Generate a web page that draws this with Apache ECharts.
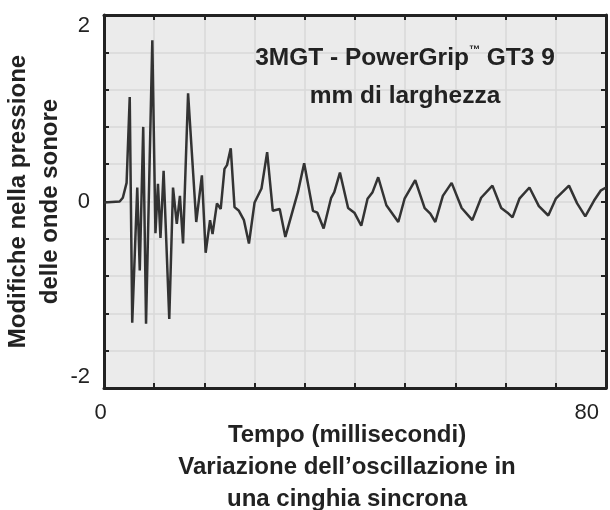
<!DOCTYPE html>
<html>
<head>
<meta charset="utf-8">
<script src="https://cdn.jsdelivr.net/npm/echarts@6/dist/echarts.min.js"></script>
<style>
    html, body {margin: 0; padding: 0; background: #ffffff;}
    #chartBox {width: 610px; height: 510px;}
</style>
</head>
<body>
<div id="chartBox"></div>
<script>
// tempo (ms) e variazione di pressione
let timeMs = [0, 2.5, 3.0, 3.6, 4.1, 4.5, 5.3, 5.7, 6.25, 6.7, 7.7, 8.2, 8.6, 9.0, 9.5, 10.4, 11.0, 11.6, 12.1, 12.6,
    13.4, 14.7, 15.6, 16.2, 16.9, 17.3, 18.0, 18.6, 19.2, 19.6, 20.2, 20.8, 21.5, 22.3, 23.1, 24.0, 25.1, 26.0, 26.9, 28.0,
    28.9, 30.9, 31.9, 33.3, 34.0, 35.0, 36.2, 36.7, 37.6, 38.9, 39.9, 41.0, 42.0, 42.8, 43.7, 45.0, 46.9, 47.9, 49.6, 51.1,
    52.0, 52.8, 54.0, 55.4, 57.0, 58.7, 60.1, 61.9, 63.3, 64.3, 65.1, 66.2, 67.8, 69.3, 70.8, 72.0, 74.1, 75.4, 76.7, 78.1,
    79.2, 80];
let pressure = [-0.01, 0.0, 0.04, 0.2, 1.12, -1.3, 0.15, -0.74, 0.8, -1.31, 1.73, -0.34, 0.19, -0.39, 0.33, -1.26, 0.15, -0.24, 0.06, -0.45,
    1.16, -0.22, 0.28, -0.55, -0.2, -0.35, -0.02, -0.08, 0.35, 0.39, 0.57, -0.06, -0.1, -0.2, -0.45, -0.01, 0.14, 0.53, -0.1, -0.08,
    -0.38, 0.1, 0.41, -0.1, -0.12, -0.29, 0.04, 0.1, 0.31, -0.07, -0.12, -0.26, 0.03, 0.1, 0.26, -0.04, -0.22, 0.03, 0.23, -0.07,
    -0.13, -0.22, 0.06, 0.2, -0.07, -0.2, 0.04, 0.17, -0.07, -0.12, -0.17, 0.03, 0.15, -0.05, -0.15, 0.03, 0.17, -0.02, -0.16, 0.01,
    0.12, 0.15];
let xTickLabels = [0, 80];
let yTickLabels = [-2, 0, 2];

let fontName = "'Liberation Sans', Arial, sans-serif";
let lineData = timeMs.map(function (t, i) { return [t, pressure[i]]; });

function hasLabel(list, v) {
    return list.some(function (l) { return Math.abs(l - v) < 1e-6; });
}

let chartBox = echarts.init(document.getElementById('chartBox'));
let axisLine = {show: true, onZero: false, lineStyle: {color: '#222', width: 3}};
let tick = {show: true, inside: true, length: 5, lineStyle: {color: '#222', width: 2}};
let grid = {show: true, lineStyle: {color: '#d9d9d9', width: 1.5}};

let option = {
    animation: false,
    backgroundColor: '#ffffff',
    title: {
        text: '3MGT - PowerGrip{tm|™} GT3 9\nmm di larghezza',
        left: 400, top: 34, textAlign: 'center',
        textStyle: {
            fontFamily: fontName, fontSize: 24.5, fontWeight: 'bold', color: '#222', lineHeight: 38,
            rich: {tm: {fontFamily: fontName, fontSize: 11, fontWeight: 'bold', color: '#222', lineHeight: 14, padding: [0, 0, 16, 0]}}
        }
    },
    grid: {left: 104, right: 4, top: 15, bottom: 122, outerBoundsMode: 'none', show: true, backgroundColor: '#ebebeb', borderWidth: 0},
    xAxis: [{
        type: 'value', min: 0, max: 80, interval: 8,
        axisLine: axisLine, axisTick: tick, splitLine: grid,
        axisLabel: {
            margin: 14, fontFamily: fontName, fontSize: 22, color: '#222', alignMaxLabel: 'right', padding: [0, 7, 0, 0],
            formatter: function (v) { return hasLabel(xTickLabels, v) ? String(v) : ''; }
        },
        name: 'Tempo (millisecondi)\nVariazione dell’oscillazione in\nuna cinghia sincrona',
        nameLocation: 'middle', nameGap: 31, nameMoveOverlap: false,
        nameTextStyle: {fontFamily: fontName, fontSize: 24, fontWeight: 'bold', color: '#222', lineHeight: 32, padding: [0, 16, 0, 0]}
    }, {
        type: 'value', min: 0, max: 80, interval: 8, position: 'top',
        axisLine: axisLine, axisTick: tick, splitLine: {show: false}, axisLabel: {show: false}
    }],
    yAxis: [{
        type: 'value', min: -2, max: 2, interval: 0.4,
        axisLine: axisLine, axisTick: tick, splitLine: grid,
        axisLabel: {
            margin: 14, fontFamily: fontName, fontSize: 22, color: '#222',
            verticalAlignMinLabel: 'bottom', verticalAlignMaxLabel: 'top', padding: [0, 0, 0, 0],
            formatter: function (v) {
                if (!hasLabel(yTickLabels, v)) return '';
                return String(Math.round(v));
            }
        },
        name: 'Modifiche nella pressione\ndelle onde sonore',
        nameLocation: 'middle', nameGap: 38, nameRotate: 90, nameMoveOverlap: false,
        nameTextStyle: {fontFamily: fontName, fontSize: 24, fontWeight: 'bold', color: '#222', lineHeight: 32}
    }, {
        type: 'value', min: -2, max: 2, interval: 0.4, position: 'right',
        axisLine: axisLine, axisTick: tick, splitLine: {show: false}, axisLabel: {show: false}
    }],
    series: [{
        type: 'line', xAxisIndex: 0, yAxisIndex: 0,
        data: lineData, showSymbol: false,
        lineStyle: {color: '#333', width: 2.5},
        z: 3
    }]
};
chartBox.setOption(option, true);
</script>
</body>
</html>
